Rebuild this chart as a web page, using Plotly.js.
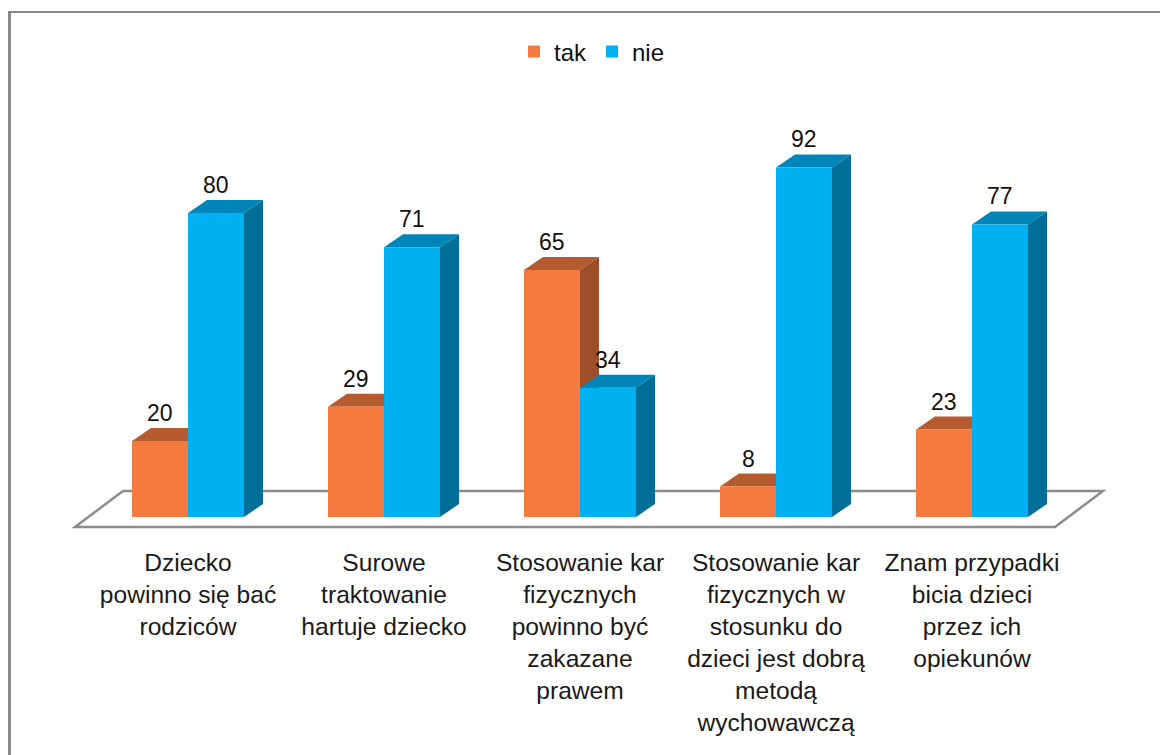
<!DOCTYPE html>
<html>
<head>
<meta charset="utf-8">
<script src="https://cdn.plot.ly/plotly-3.0.1.min.js"></script>
<style>
  html, body { margin: 0; padding: 0; background: #ffffff; overflow: hidden; }
  #chart { width: 1160px; height: 755px; }
  #frame { position: absolute; left: 8px; top: 11px; width: 1200px; height: 800px;
           border-left: 3px solid #888888; border-top: 2px solid #888888; pointer-events: none; }
</style>
</head>
<body>
<div id="chart"></div>
<div id="frame"></div>
<script>
// ---- data ----
const categories = [
  "Dziecko<br>powinno się bać<br>rodziców",
  "Surowe<br>traktowanie<br>hartuje dziecko",
  "Stosowanie kar<br>fizycznych<br>powinno być<br>zakazane<br>prawem",
  "Stosowanie kar<br>fizycznych w<br>stosunku do<br>dzieci jest dobrą<br>metodą<br>wychowawczą",
  "Znam przypadki<br>bicia dzieci<br>przez ich<br>opiekunów"
];
const seriesNames = ["tak", "nie"];
const takValues = [20, 29, 65, 8, 23];
const nieValues = [80, 71, 34, 92, 77];

// ---- style ----
const W = 1160, H = 755;
const M = { l: 90, r: 90, t: 99, b: 219 };
const xRange = [-0.5, 4.5];
const yRange = [-5, 110];
const plotW = W - M.l - M.r, plotH = H - M.t - M.b;
const pxX = plotW / (xRange[1] - xRange[0]);
const pxY = plotH / (yRange[1] - yRange[0]);
const bargap = 1 - 112 / 196;
const barW = (1 - bargap) / 2;
const dx = 19 / pxX, dy = 13 / pxY;
const FONT = "Liberation Sans, Arial, sans-serif";

const colors = {
  tak: { front: "#F47A3F", top: "#B65B2F", side: "#9E4E28" },
  nie: { front: "#00B0F0", top: "#0085B8", side: "#006E97" }
};

const series = [
  { name: seriesNames[0], values: takValues, c: colors.tak, off: -barW / 2 },
  { name: seriesNames[1], values: nieValues, c: colors.nie, off: barW / 2 }
];

const traces = series.map(s => ({
  type: "bar",
  name: s.name,
  x: categories,
  y: s.values,
  marker: { color: s.c.front },
  hoverinfo: "x+y"
}));

const shapes = [];
// floor (paper coords so it is not clipped by the plot area)
const px2paperX = p => (p - M.l) / plotW;
const px2paperY = p => (H - M.b - p) / plotH;
const fl = { fl: 75, fr: 1055, fy: 527, bl: 123, br: 1103, by: 491 };
shapes.push({
  type: "path", xref: "paper", yref: "paper", layer: "below",
  path: `M ${px2paperX(fl.fl)} ${px2paperY(fl.fy)} L ${px2paperX(fl.fr)} ${px2paperY(fl.fy)} L ${px2paperX(fl.br)} ${px2paperY(fl.by)} L ${px2paperX(fl.bl)} ${px2paperY(fl.by)} Z`,
  line: { color: "#8c8c8c", width: 2.5 }, fillcolor: "rgba(255,255,255,0)"
});

const annotations = [];
series.forEach(s => {
  s.values.forEach((v, i) => {
    const x0 = i + s.off - barW / 2, x1 = i + s.off + barW / 2;
    shapes.push({
      type: "path", xref: "x", yref: "y", layer: "below",
      path: `M ${x0} ${v} L ${x1} ${v} L ${x1 + dx} ${v + dy} L ${x0 + dx} ${v + dy} Z`,
      fillcolor: s.c.top, line: { width: 0 }
    });
    shapes.push({
      type: "path", xref: "x", yref: "y", layer: "below",
      path: `M ${x1} 0 L ${x1 + dx} ${dy} L ${x1 + dx} ${v + dy} L ${x1} ${v} Z`,
      fillcolor: s.c.side, line: { width: 0 }
    });
    annotations.push({
      x: i + s.off, y: v + dy, xref: "x", yref: "y",
      text: String(v), showarrow: false, yanchor: "bottom", yshift: 0,
      font: { family: FONT, size: 23, color: "#111111" }
    });
  });
});

const layout = {
  width: W, height: H,
  margin: M,
  paper_bgcolor: "#ffffff",
  plot_bgcolor: "rgba(0,0,0,0)",
  barmode: "group",
  bargap: bargap,
  bargroupgap: 0,
  showlegend: true,
  legend: {
    orientation: "h", x: (514 - M.l) / plotW, xanchor: "left",
    y: (H - M.b - 52) / plotH, yanchor: "middle",
    font: { family: FONT, size: 24, color: "#111111" },
    itemwidth: 30, tracegroupgap: 0
  },
  xaxis: {
    type: "category", range: xRange, showgrid: false, zeroline: false, showline: false,
    ticks: "", ticklabelstandoff: 9,
    tickfont: { family: FONT, size: 24.6, color: "#1a1a1a" },
    fixedrange: true
  },
  yaxis: {
    range: yRange, showgrid: false, zeroline: false, showline: false,
    showticklabels: false, ticks: "", fixedrange: true
  },
  shapes: shapes,
  annotations: annotations
};

Plotly.newPlot("chart", traces, layout, { displayModeBar: false, staticPlot: true });
</script>
</body>
</html>
